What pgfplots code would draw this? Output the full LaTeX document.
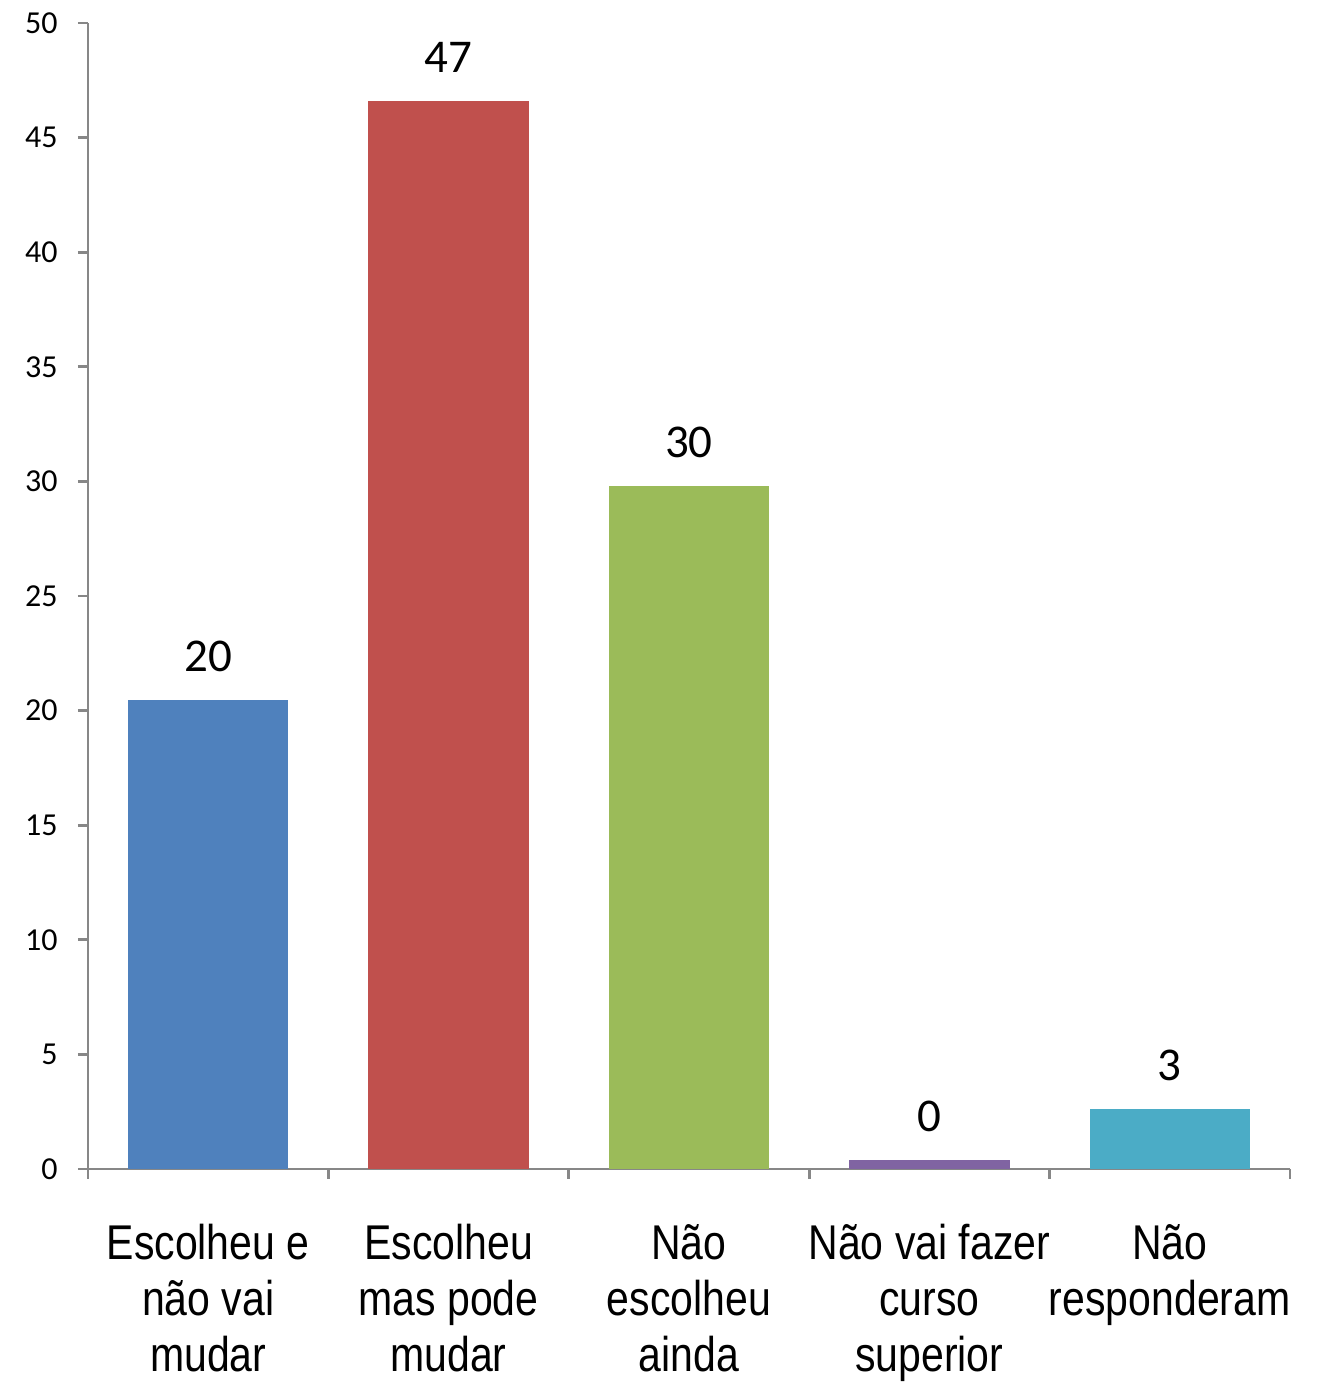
\documentclass[border=0pt]{standalone}
\usepackage{fontspec}
\setmainfont{Carlito}
\newfontfamily\xlab[FakeStretch=0.84]{Liberation Sans}
\usepackage{pgfplots}
\pgfplotsset{compat=1.18}

\definecolor{axgray}{HTML}{878787}
\definecolor{c1}{HTML}{4F81BD}
\definecolor{c2}{HTML}{C0504D}
\definecolor{c3}{HTML}{9BBB59}
\definecolor{c4}{HTML}{8064A2}
\definecolor{c5}{HTML}{4BACC6}

\begin{document}
\begin{tikzpicture}
\begin{axis}[
    scale only axis,
    width=601pt, height=573pt,
    ybar, bar width=0.667, bar shift=0pt,
    xmin=-0.5, xmax=4.5,
    ymin=0, ymax=50,
    ytick={0,5,...,50},
    xtick={-0.5,0.5,1.5,2.5,3.5,4.5},
    xticklabels={},
    extra x ticks={0,1,2,3,4},
    extra x tick labels={Escolheu e\\não vai\\mudar, Escolheu\\mas pode\\mudar, Não\\escolheu\\ainda, Não vai fazer\\curso\\superior, Não\\responderam},
    extra x tick style={major tick length=0pt,
        tick label style={font=\xlab\fontsize{24.4}{28}\selectfont, align=center,
            anchor=north, inner sep=0pt, yshift=-27.5pt}},
    axis lines=left,
    axis line style={axgray, line width=1.4pt, -},
    tick style={axgray, line width=1.4pt},
    tick align=outside,
    major tick length=5pt,
    /pgf/number format/assume math mode=true,
    yticklabel style={font=\fontsize{16}{18}\selectfont, inner sep=0pt, xshift=-10pt},
    nodes near coords,
    nodes near coords style={font=\fontsize{23.5}{26}\selectfont, anchor=south, inner sep=0pt, yshift=14pt,
        /pgf/number format/fixed, /pgf/number format/precision=0, /pgf/number format/assume math mode=true},
    clip=false,
]
\addplot[fill=c1, draw=none] coordinates {(0,20.45)};
\addplot[fill=c2, draw=none] coordinates {(1,46.6)};
\addplot[fill=c3, draw=none] coordinates {(2,29.8)};
\addplot[fill=c4, draw=none] coordinates {(3,0.4)};
\addplot[fill=c5, draw=none] coordinates {(4,2.6)};
\coordinate (bbsw) at (rel axis cs:-0.0732,-0.1859);
\coordinate (bbne) at (rel axis cs:1.0233,1.0201);
\end{axis}
\pgfresetboundingbox
\path[use as bounding box] (bbsw) rectangle (bbne);
\end{tikzpicture}
\end{document}
